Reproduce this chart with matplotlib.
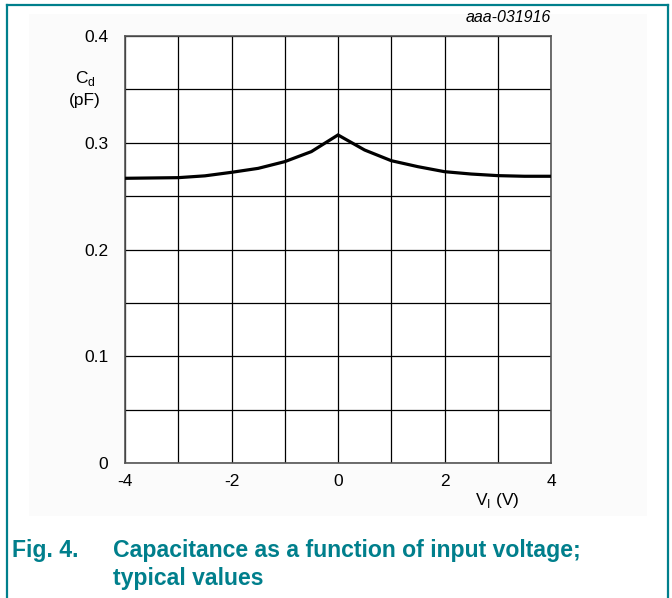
import numpy as np
import matplotlib.pyplot as plt
from matplotlib import font_manager
from matplotlib.lines import Line2D
from matplotlib.patches import Rectangle

# data
vi = [-4, -3, -2.5, -2, -1.5, -1, -0.5, 0, 0.5, 1, 1.5, 2, 2.5, 3, 3.5, 4]
cd = [0.2667, 0.2673, 0.2690, 0.2723, 0.2760, 0.2823, 0.2917, 0.3073,
      0.2932, 0.2832, 0.2776, 0.2729, 0.2707, 0.2692, 0.2686, 0.2686]
xticks = [-4, -2, 0, 2, 4]
xtlabels = ['-4', '-2', '0', '2', '4']
yticks = [0, 0.1, 0.2, 0.3, 0.4]
ytlabels = ['0', '0.1', '0.2', '0.3', '0.4']

teal = '#007f8c'
W, H = 672, 598

plt.rcParams['font.family'] = ['Liberation Sans', 'DejaVu Sans']
plt.rcParams['axes.unicode_minus'] = False
fig = plt.figure(figsize=(W/100, H/100), dpi=100)
fig.patch.set_facecolor('white')

# very light panel behind the chart
fig.patches.append(Rectangle((29/W, 1-516/H), (647-29)/W, (516-14)/H,
                             transform=fig.transFigure, facecolor='#fbfbfb',
                             edgecolor='none', zorder=-5))
# teal frame (top, left, right)
fig.lines.append(Line2D([7/W, 7/W], [0, 1-5/H], transform=fig.transFigure, color=teal, lw=1.6))
fig.lines.append(Line2D([7/W, 668/W], [1-5/H, 1-5/H], transform=fig.transFigure, color=teal, lw=1.6))
fig.lines.append(Line2D([668/W, 668/W], [0, 1-5/H], transform=fig.transFigure, color=teal, lw=1.6))

ax = fig.add_axes([125/W, 1-463/H, (551-125)/W, (463-36)/H])
ax.set_facecolor('white')
ax.plot(vi, cd, color='black', lw=2.3, solid_joinstyle='miter', zorder=3)
ax.set_xlim(-4, 4)
ax.set_ylim(0, 0.4)
ax.set_xticks(np.arange(-4, 4.1, 1), minor=True)
ax.set_yticks(np.arange(0, 0.41, 0.05), minor=True)
ax.set_xticks(xticks)
ax.set_xticklabels(xtlabels)
ax.set_yticks(yticks)
ax.set_yticklabels(ytlabels)
ax.grid(True, which='both', color='black', lw=0.9)
ax.tick_params(which='both', length=0, labelsize=12.5)
ax.tick_params(axis='x', pad=8)
ax.tick_params(axis='y', pad=12)
for s in ax.spines.values():
    s.set_color('#555555')
    s.set_linewidth(1.2)

fig.text(85/W, 1-78/H, r'C$_\mathregular{d}$', fontsize=12.5, ha='center', va='center')
fig.text(85/W, 1-100/H, '(pF)', fontsize=12.5, ha='center', va='center')
fig.text(497/W, 1-501/H, r'V$_\mathregular{I}$ (V)', fontsize=12.5, ha='center', va='center')
fig.text(551/W, 1-18/H, 'aaa-031916', fontsize=11.5, style='italic', ha='right', va='center')

names = {f.name for f in font_manager.fontManager.ttflist}
capfont = 'Liberation Sans Narrow' if 'Liberation Sans Narrow' in names else 'Liberation Sans'
capsize = 18 if capfont == 'Liberation Sans Narrow' else 16.6
fig.text(12/W, 1-551/H, 'Fig. 4.', fontsize=capsize, fontweight='bold', color=teal,
         family=capfont, ha='left', va='center')
fig.text(113/W, 1-551/H, 'Capacitance as a function of input voltage;', fontsize=capsize,
         fontweight='bold', color=teal, family=capfont, ha='left', va='center')
fig.text(113/W, 1-579/H, 'typical values', fontsize=capsize, fontweight='bold', color=teal,
         family=capfont, ha='left', va='center')

fig.savefig('out.png', dpi=100)
